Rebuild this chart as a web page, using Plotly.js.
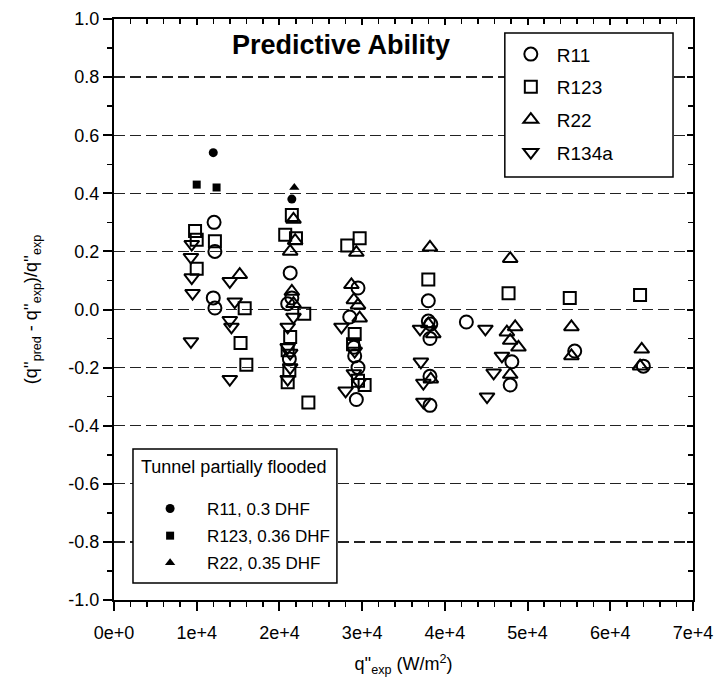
<!DOCTYPE html>
<html>
<head>
<meta charset="utf-8">
<script src="https://cdn.plot.ly/plotly-3.0.1.min.js"></script>
<style>html,body{margin:0;padding:0;background:#fff;}#chart{width:719px;height:681px;}</style>
</head>
<body>
<div id="chart"></div>
<script>
// ---- axis ticks ----
const xTickVals = [0, 10000, 20000, 30000, 40000, 50000, 60000, 70000];
const xTickText = ['0e+0', '1e+4', '2e+4', '3e+4', '4e+4', '5e+4', '6e+4', '7e+4'];
const yTickVals = [-1.0, -0.8, -0.6, -0.4, -0.2, 0.0, 0.2, 0.4, 0.6, 0.8, 1.0];
const yTickText = ['-1.0', '-0.8', '-0.6', '-0.4', '-0.2', '0.0', '0.2', '0.4', '0.6', '0.8', '1.0'];

// ---- series: R11 (open circles) ----
const r11X = [12100, 12200, 12000, 12200, 21300, 21500, 21000, 21200,
              29500, 28500, 29000, 29100, 29500, 29300,
              38000, 38000, 38300, 38200, 38200, 38200, 42600,
              48100, 47900, 55700, 64000];
const r11Y = [0.30, 0.20, 0.04, 0.005, 0.126, 0.04, 0.02, -0.17,
              0.074, -0.026, -0.13, -0.16, -0.20, -0.31,
              0.03, -0.04, -0.05, -0.10, -0.23, -0.33, -0.043,
              -0.18, -0.26, -0.143, -0.195];

// ---- series: R123 (open squares) ----
const r123X = [9800, 10000, 12200, 10000, 15800, 15300, 16000,
               21500, 20700, 22000, 21300, 21000, 21200, 21000, 23000, 23500,
               28200, 29700, 29100, 28900, 29500, 30300,
               38000, 47700, 55100, 63600];
const r123Y = [0.27, 0.24, 0.235, 0.14, 0.004, -0.115, -0.19,
               0.325, 0.257, 0.245, -0.095, -0.14, -0.21, -0.25, -0.015, -0.32,
               0.22, 0.245, -0.084, -0.12, -0.245, -0.26,
               0.103, 0.056, 0.04, 0.05];

// ---- series: R22 (open up-triangles) ----
const r22X = [15200, 21700, 21900, 21300, 21500, 21700,
              29300, 28700, 29000, 29500, 29700,
              38200, 38600, 38000, 38300,
              47900, 48500, 47500, 47900, 48900, 47900,
              55300, 55300, 63800, 63600];
const r22Y = [0.12, 0.31, 0.237, 0.20, 0.062, 0.02,
              0.196, 0.085, 0.033, 0.015, -0.03,
              0.214, -0.084, -0.05, -0.24,
              0.175, -0.06, -0.078, -0.107, -0.13, -0.224,
              -0.06, -0.16, -0.137, -0.195];

// ---- series: R134a (open down-triangles) ----
const r134aX = [9400, 9300, 9400, 9500, 9300,
                14000, 14600, 14000, 14200, 14000,
                21700, 21000, 21000, 21300, 21300, 21000,
                27500, 29100, 29000, 28000, 29600,
                37000, 37100, 37400, 37400,
                44900, 46900, 45900, 45100];
const r134aY = [0.225, 0.18, 0.11, 0.056, -0.11,
                0.097, 0.027, -0.037, -0.06, -0.24,
                -0.026, -0.06, -0.13, -0.15, -0.20, -0.24,
                -0.06, -0.143, -0.22, -0.28, -0.25,
                -0.067, -0.18, -0.253, -0.318,
                -0.067, -0.16, -0.218, -0.30];

// ---- tunnel partially flooded (filled) ----
const r11FloodX = [12000, 21500];
const r11FloodY = [0.54, 0.38];
const r123FloodX = [10000, 12400];
const r123FloodY = [0.43, 0.42];
const r22FloodX = [21800];
const r22FloodY = [0.42];

const FONT = 'Liberation Sans, Arial, sans-serif';

function openTrace(name, x, y, symbol, size) {
  return {type: 'scatter', mode: 'markers', name: name, x: x, y: y,
          legend: 'legend', legendgroup: name,
          marker: {symbol: symbol, size: size, color: '#000', line: {color: '#000', width: 2}}};
}
function filledTrace(name, x, y, symbol, size) {
  return {type: 'scatter', mode: 'markers', name: name, x: x, y: y,
          legend: 'legend2', legendgroup: name,
          marker: {symbol: symbol, size: size, color: '#000', line: {width: 0}}};
}

const data = [
  openTrace('R11', r11X, r11Y, 'circle-open', 13),
  openTrace('R123', r123X, r123Y, 'square-open', 12),
  openTrace('R22', r22X, r22Y, 'triangle-up-open', 13),
  openTrace('R134a', r134aX, r134aY, 'triangle-down-open', 13),
  filledTrace('R11, 0.3 DHF', r11FloodX, r11FloodY, 'circle', 9),
  filledTrace('R123, 0.36 DHF', r123FloodX, r123FloodY, 'square', 8),
  filledTrace('R22, 0.35 DHF', r22FloodX, r22FloodY, 'triangle-up', 9),
  {type: 'scatter', mode: 'markers', x: [], y: [], xaxis: 'x2', yaxis: 'y2', showlegend: false, hoverinfo: 'skip'}
];

const boxLine = {color: '#000', width: 1.5};

const layout = {
  width: 719, height: 681,
  margin: {l: 114, r: 26, t: 19, b: 81},
  paper_bgcolor: '#fff', plot_bgcolor: '#fff',
  font: {family: FONT, size: 18, color: '#000'},
  showlegend: true,
  xaxis: {
    range: [0, 70000], tickmode: 'array', tickvals: xTickVals, ticktext: xTickText,
    ticks: 'outside', ticklen: 9, tickwidth: 2, tickcolor: '#000',
    showline: true, linewidth: 2, linecolor: '#000', mirror: false,
    showgrid: false, zeroline: false, automargin: false, ticklabelstandoff: 6,
    tickfont: {family: FONT, size: 18, color: '#000'},
    minor: {tickmode: 'linear', tick0: 0, dtick: 2000, ticks: 'outside', ticklen: 5, tickwidth: 1.5, tickcolor: '#000', showgrid: false},
    title: {text: "q''<sub>exp</sub> (W/m<sup>2</sup>)", font: {family: FONT, size: 18, color: '#000'}, standoff: 16}
  },
  yaxis: {
    range: [-1, 1], tickmode: 'array', tickvals: yTickVals, ticktext: yTickText,
    ticks: 'outside', ticklen: 9, tickwidth: 2, tickcolor: '#000',
    showline: true, linewidth: 2, linecolor: '#000', mirror: false,
    showgrid: true, gridcolor: '#222', gridwidth: 1.3, griddash: '11px,5px',
    zeroline: false, automargin: false,
    tickfont: {family: FONT, size: 18, color: '#000'},
    minor: {tickmode: 'linear', tick0: 0, dtick: 0.1, ticks: 'outside', ticklen: 5, tickwidth: 1.5, tickcolor: '#000', showgrid: false},
    title: {text: "(q''<sub>pred</sub> - q''<sub>exp</sub>)/q''<sub>exp</sub>", font: {family: FONT, size: 18, color: '#000'}, standoff: 26}
  },
  xaxis2: {
    overlaying: 'x', side: 'top', anchor: 'y2', range: [0, 70000],
    tickmode: 'array', tickvals: xTickVals, showticklabels: false,
    ticks: 'inside', ticklen: 6, tickwidth: 2, tickcolor: '#000',
    showline: true, linewidth: 2, linecolor: '#000', showgrid: false, zeroline: false,
    minor: {tickmode: 'linear', tick0: 0, dtick: 2000, ticks: 'inside', ticklen: 5, tickwidth: 1.5, tickcolor: '#000', showgrid: false}
  },
  yaxis2: {
    overlaying: 'y', side: 'right', anchor: 'x2', range: [-1, 1],
    tickmode: 'array', tickvals: yTickVals, showticklabels: false,
    ticks: 'inside', ticklen: 6, tickwidth: 2, tickcolor: '#000',
    showline: true, linewidth: 2, linecolor: '#000', showgrid: false, zeroline: false,
    minor: {tickmode: 'linear', tick0: 0, dtick: 0.1, ticks: 'inside', ticklen: 5, tickwidth: 1.5, tickcolor: '#000', showgrid: false}
  },
  legend: {
    x: 0.675, y: 0.972, xanchor: 'left', yanchor: 'top',
    bgcolor: 'rgba(0,0,0,0)', borderwidth: 0,
    font: {family: FONT, size: 19, color: '#000'},
    tracegroupgap: 5, itemwidth: 42
  },
  legend2: {
    x: 0.033, y: 0.1876, xanchor: 'left', yanchor: 'top',
    bgcolor: 'rgba(0,0,0,0)', borderwidth: 0,
    font: {family: FONT, size: 17, color: '#000'},
    tracegroupgap: 2, itemwidth: 64
  },
  shapes: [
    {type: 'rect', xref: 'paper', yref: 'paper', x0: 0.675, x1: 0.9655, y0: 0.728, y1: 0.976,
     fillcolor: '#fff', line: boxLine, layer: 'above'},
    {type: 'rect', xref: 'paper', yref: 'paper', x0: 0.0328, x1: 0.385, y0: 0.0293, y1: 0.26,
     fillcolor: '#fff', line: boxLine, layer: 'above'}
  ],
  annotations: [
    {text: '<b>Predictive Ability</b>', xref: 'paper', yref: 'paper', x: 0.392, y: 0.955,
     xanchor: 'center', yanchor: 'middle', showarrow: false,
     font: {family: FONT, size: 27, color: '#000'}},
    {text: 'Tunnel partially flooded', xref: 'paper', yref: 'paper', x: 0.043, y: 0.229,
     xanchor: 'left', yanchor: 'middle', showarrow: false,
     font: {family: FONT, size: 18, color: '#000'}}
  ]
};

Plotly.newPlot('chart', data, layout, {staticPlot: true, displayModeBar: false});
</script>
</body>
</html>
